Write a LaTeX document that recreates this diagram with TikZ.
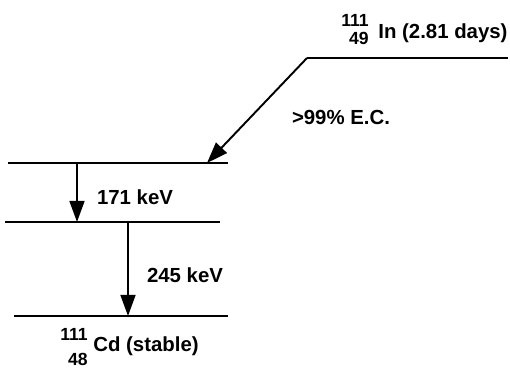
\documentclass[tikz,border=0pt]{standalone}
\usepackage{fontspec}
\setmainfont{Liberation Sans}
\usetikzlibrary{arrows.meta}

\tikzset{
  level/.style={line width=1.1pt},
  decay/.style={line width=1.1pt, -{Triangle[length=12pt,width=8.5pt]}},
  lbl/.style={font=\fontsize{11.6}{13}\selectfont\bfseries, inner sep=0pt},
  nucl/.style={font=\fontsize{10}{11}\selectfont\bfseries, inner sep=0pt, anchor=east},
}

\begin{document}
\begin{tikzpicture}
  \useasboundingbox (0,0) rectangle (10.2,7.4);
  % levels
  \coordinate (inL) at (6.14,6.24);
  \coordinate (inR) at (10.16,6.24);
  \coordinate (exA) at (0.16,4.14);
  \coordinate (exB) at (4.56,4.14);
  \coordinate (midA) at (0.10,2.96);
  \coordinate (midB) at (4.40,2.96);
  \coordinate (gsA) at (0.28,1.08);
  \coordinate (gsB) at (4.56,1.08);
  \draw[level] (inR) -- (inL);
  \draw[level] (exA) -- (exB);
  \draw[level] (midA) -- (midB);
  \draw[level] (gsA) -- (gsB);
  % transitions
  \coordinate (ecEnd) at (4.14,4.14);
  \coordinate (g1Top) at (1.54,4.14);
  \coordinate (g1End) at (1.54,2.96);
  \coordinate (g2Top) at (2.56,2.96);
  \coordinate (g2End) at (2.56,1.08);
  \draw[decay] (inL) -- (ecEnd);
  \draw[decay] (g1Top) -- (g1End);
  \draw[decay] (g2Top) -- (g2End);
  % labels
  \node[lbl] (ec) at (6.82,5.06) {>99\% E.C.};
  \node[lbl] (g1) at (2.70,3.46) {171 keV};
  \node[lbl] (g2) at (3.70,1.90) {245 keV};
  \node[nucl] (inMass) at (7.38,7.00) {111};
  \node[nucl] (inZ) at (7.38,6.64) {49};
  \node[lbl, anchor=west] (inName) at (7.56,6.74) {In (2.81 days)};
  \node[nucl] (cdMass) at (1.76,0.72) {111};
  \node[nucl] (cdZ) at (1.76,0.22) {48};
  \node[lbl, anchor=west] (cdName) at (1.86,0.48) {Cd (stable)};
\end{tikzpicture}
\end{document}
